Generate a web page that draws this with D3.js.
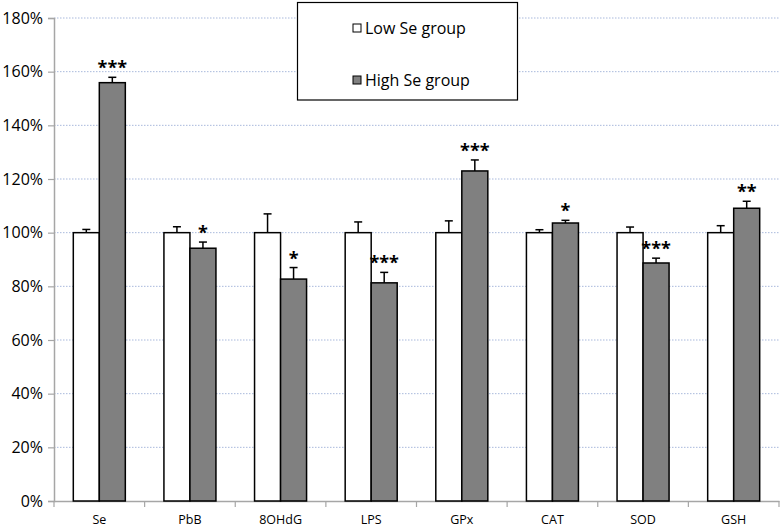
<!DOCTYPE html>
<html><head><meta charset="utf-8">
<script src="https://cdn.jsdelivr.net/npm/d3@7"></script>
<style>body{margin:0;background:#fff}svg{display:block}text{font-family:"Open Sans",sans-serif}</style>
</head><body><svg id="c" width="780" height="530"></svg>
<script>
const categories = ["Se","PbB","8OHdG","LPS","GPx","CAT","SOD","GSH"];
const lowValues  = [100,100,100,100,100,100,100,100];
const lowErrors  = [1.2,2.2,7.0,4.0,4.4,1.1,2.1,2.6];
const highValues = [155.9,94.2,82.7,81.3,123.0,103.6,88.7,109.1];
const highErrors = [2.0,2.3,4.3,3.9,4.1,1.0,1.8,2.6];
const stars      = ["***","*","*","***","***","*","***","**"];
const series     = ["Low Se group","High Se group"];
const yTicks     = [0,20,40,60,80,100,120,140,160,180];

(function(){
const svg = d3.select("#c");
const mLeft = 54, mRight = 779, mTop = 18, mBottom = 501;
const x = d3.scaleBand().domain(categories).range([mLeft, mRight]);
const y = d3.scaleLinear().domain([0,180]).range([mBottom, mTop]);
const colors = ["#ffffff","#808080"];
const barW = x.bandwidth()*0.287;

// gridlines
svg.append("g").selectAll("line").data(yTicks.filter(d=>d>0)).join("line")
  .attr("x1", mLeft).attr("x2", mRight).attr("y1", d=>y(d)).attr("y2", d=>y(d))
  .attr("stroke","#a9b9dc").attr("stroke-width",1).attr("stroke-dasharray","1.5,1.5");

// y axis
const yAxis = svg.append("g").attr("transform",`translate(${mLeft},0)`)
  .call(d3.axisLeft(y).tickValues(yTicks).tickFormat(d=>d+"%").tickSize(6).tickPadding(5));
yAxis.select(".domain").attr("stroke","#a6a6a6").attr("stroke-width",1.5);
yAxis.selectAll(".tick line").attr("stroke","#a6a6a6").attr("stroke-width",1.2);
yAxis.selectAll(".tick text").attr("font-size",16).attr("fill","#000").style("font-family","'Open Sans',sans-serif");

// x axis
const xAxis = svg.append("g").attr("transform",`translate(0,${mBottom})`)
  .call(d3.axisBottom(x).tickSize(0).tickPadding(14));
xAxis.select(".domain").attr("stroke","#a6a6a6").attr("stroke-width",1.5);
xAxis.selectAll(".tick text").attr("font-size",12.5).attr("fill","#000").style("font-family","'Open Sans',sans-serif");
const bounds = categories.map(c=>x(c)).concat([x(categories[categories.length-1])+x.bandwidth()]);
svg.append("g").selectAll("line").data(bounds).join("line")
  .attr("x1",d=>d).attr("x2",d=>d).attr("y1",mBottom).attr("y2",mBottom+6)
  .attr("stroke","#a6a6a6").attr("stroke-width",1.2);

const groups = [
  {vals: lowValues, errs: lowErrors, off: -1},
  {vals: highValues, errs: highErrors, off: 0}
];
groups.forEach((g,gi)=>{
  const bx = (i)=> x(categories[i]) + x.bandwidth()/2 + g.off*barW;
  const gg = svg.append("g");
  gg.selectAll("line.e").data(g.vals).join("line").attr("class","e")
    .attr("x1",(d,i)=>bx(i)+barW/2).attr("x2",(d,i)=>bx(i)+barW/2)
    .attr("y1",d=>y(d)).attr("y2",(d,i)=>y(d+g.errs[i]))
    .attr("stroke","#000").attr("stroke-width",1.5);
  gg.selectAll("line.c").data(g.vals).join("line").attr("class","c")
    .attr("x1",(d,i)=>bx(i)+barW/2-4).attr("x2",(d,i)=>bx(i)+barW/2+4)
    .attr("y1",(d,i)=>y(d+g.errs[i])).attr("y2",(d,i)=>y(d+g.errs[i]))
    .attr("stroke","#000").attr("stroke-width",1.5);
  gg.selectAll("rect").data(g.vals).join("rect")
    .attr("x",(d,i)=>bx(i)).attr("width",barW)
    .attr("y",d=>y(d)).attr("height",d=>mBottom-y(d))
    .attr("fill",colors[gi]).attr("stroke","#000").attr("stroke-width",1.5);
});

// stars
svg.append("g").selectAll("text").data(highValues).join("text")
  .attr("x",(d,i)=>x(categories[i])+x.bandwidth()/2+barW/2)
  .attr("y",(d,i)=>y(d+highErrors[i])-3)
  .attr("text-anchor","middle").attr("font-size",18).attr("font-weight","bold")
  .text((d,i)=>stars[i]);

// legend
const lg = svg.append("g");
lg.append("rect").attr("x",297.5).attr("y",2.5).attr("width",220).attr("height",97.5)
  .attr("fill","#fff").attr("stroke","#000").attr("stroke-width",1.2);
series.forEach((s,i)=>{
  const cy = 28 + i*52;
  lg.append("rect").attr("x",353).attr("y",cy-4).attr("width",8).attr("height",8)
    .attr("fill",colors[i]).attr("stroke","#000").attr("stroke-width",1);
  lg.append("text").attr("x",365).attr("y",cy).attr("dy","0.35em")
    .attr("font-size",16).text(s);
});
})();
</script></body></html>
